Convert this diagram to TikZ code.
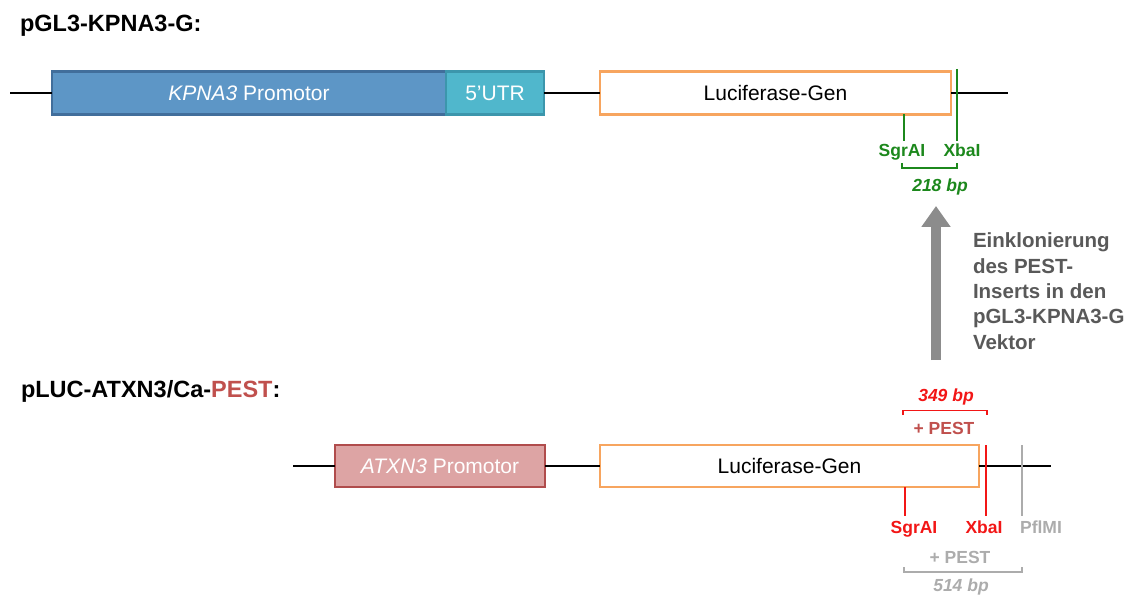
\documentclass[tikz,border=0pt]{standalone}
\usepackage{fontspec}
\setmainfont{Liberation Sans}
\usetikzlibrary{arrows.meta,positioning}

\definecolor{kpnablue}{RGB}{93,150,198}
\definecolor{kpnaline}{RGB}{65,110,155}
\definecolor{utrcyan}{RGB}{80,183,204}
\definecolor{utrline}{RGB}{60,150,172}
\definecolor{atxnpink}{RGB}{221,164,164}
\definecolor{atxnline}{RGB}{176,76,76}
\definecolor{lucorange}{RGB}{247,165,95}
\definecolor{sitegreen}{RGB}{28,136,28}
\definecolor{sitered}{RGB}{242,22,22}
\definecolor{pestred}{RGB}{192,80,77}
\definecolor{sitegray}{RGB}{172,172,172}
\definecolor{arrowgray}{RGB}{140,140,140}
\definecolor{textgray}{RGB}{89,89,89}

\begin{document}
\begin{tikzpicture}[x=1pt, y=-1pt, every node/.style={inner sep=0pt, outer sep=0pt},
    gene/.style={draw, line width=2.4pt, minimum height=43pt, anchor=west, text=white, font=\fontsize{21}{25}\selectfont},
    title/.style={anchor=base west, font=\bfseries\fontsize{23.5}{28}\selectfont},
    site/.style={anchor=base, font=\bfseries\fontsize{17.5}{20}\selectfont},
    bp/.style={anchor=base, font=\bfseries\itshape\fontsize{17.5}{20}\selectfont},
    backbone/.style={line width=1.8pt, black},
    cut/.style={line width=2pt}]
  \useasboundingbox (0,0) rectangle (1136,596);

  % pGL3-KPNA3-G
  \node[title] (name1) at (20,32) {pGL3-KPNA3-G:};
  \coordinate (start1) at (10,93);
  \coordinate (end1) at (1008,93);
  \node[gene, fill=kpnablue, draw=kpnaline, minimum width=394pt] (prom1) at (52,93) {\textit{KPNA3} Promotor};
  \node[gene, fill=utrcyan, draw=utrline, minimum width=98pt, right=0pt of prom1] (utr1) {5'UTR};
  \node[gene, fill=white, draw=lucorange, text=black, minimum width=351pt] (luc1) at (600,93) {Luciferase-Gen};
  \draw[backbone] (start1) -- (prom1);
  \draw[backbone] (utr1) -- (luc1);
  \draw[backbone] (luc1) -- (end1);

  \node[site, text=sitegreen] (sgr1) at (902,157) {SgrAI};
  \node[site, text=sitegreen] (xba1) at (962,157) {XbaI};
  \coordinate (xba1top) at (957,69);
  \draw[cut, sitegreen] (luc1.south -| 904,0) -- (904,141);
  \draw[cut, sitegreen] (xba1top) -- (957,141);
  \draw[line width=1.6pt, sitegreen] (902,163) -- (902,168) -- (957,168) -- (957,163);
  \node[bp, text=sitegreen] (bp1) at (940,192) {218 bp};

  % cloning step
  \coordinate (arrowfoot) at (936,360);
  \coordinate (arrowtip) at (936,206);
  \draw[line width=10pt, arrowgray, -{Triangle[width=28pt,length=21pt]}] (arrowfoot) -- (arrowtip);
  \node[anchor=north west, align=left, text=textgray, font=\bfseries\fontsize{20.5}{25.3}\selectfont] (step1) at (973,233)
    {Einklonierung\\des PEST-\\Inserts in den\\pGL3-KPNA3-G\\Vektor};

  % pLUC-ATXN3/Ca-PEST
  \node[title] (name2) at (21,397) {pLUC-ATXN3/Ca-\textcolor{pestred}{PEST}:};
  \coordinate (start2) at (293,466);
  \coordinate (end2) at (1051,466);
  \node[gene, fill=atxnpink, draw=atxnline, minimum width=210pt, minimum height=42pt] (prom2) at (335,466) {\textit{ATXN3} Promotor};
  \node[gene, fill=white, draw=lucorange, text=black, minimum width=379pt, minimum height=42pt] (luc2) at (600,466) {Luciferase-Gen};
  \draw[backbone] (start2) -- (prom2);
  \draw[backbone] (prom2) -- (luc2);
  \draw[backbone] (luc2) -- (end2);

  \node[site, text=sitered] (sgr2) at (914,533) {SgrAI};
  \node[site, text=sitered] (xba2) at (984,533) {XbaI};
  \node[site, text=sitegray] (pfl2) at (1041,533) {PflMI};
  \draw[cut, sitered] (luc2.south -| 905,0) -- (905,516);
  \draw[cut, sitered] (986,445) -- (986,516);
  \draw[cut, sitegray] (1022,445) -- (1022,516);

  \node[bp, text=sitered] (bp2) at (946,401) {349 bp};
  \draw[line width=1.6pt, sitered] (903,415) -- (903,410.5) -- (987,410.5) -- (987,415);
  \node[site, text=pestred] (pest2) at (944,434) {+ PEST};

  \node[site, text=sitegray] (pest3) at (960,563) {+ PEST};
  \draw[line width=1.6pt, sitegray] (904,567) -- (904,572) -- (1022,572) -- (1022,567);
  \node[bp, text=sitegray] (bp3) at (961,591) {514 bp};
\end{tikzpicture}
\end{document}
